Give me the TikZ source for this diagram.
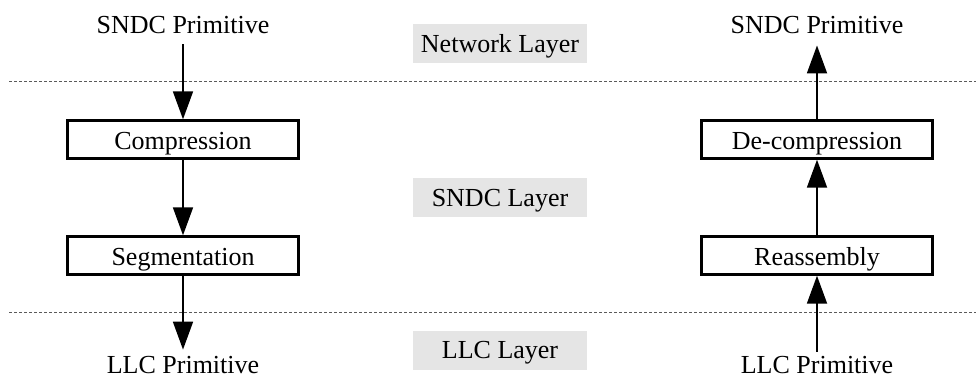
\documentclass[tikz,border=0pt]{standalone}
\usepackage{fontspec}
\setmainfont{Liberation Serif}
\usetikzlibrary{arrows.meta}
\definecolor{layergray}{RGB}{229,229,229}
\definecolor{sepgray}{RGB}{90,90,90}
\tikzset{
  txt/.style={font=\fontsize{26}{30}\selectfont, inner sep=0pt, anchor=base},
  procbox/.style={draw, line width=2.4pt, minimum width=231pt, minimum height=38pt, inner sep=0pt, text height=20pt, text depth=0pt, font=\fontsize{26}{30}\selectfont},
  layerbox/.style={fill=layergray, minimum width=174pt, minimum height=39pt, inner sep=0pt, text height=17pt, text depth=0pt, font=\fontsize{26}{30}\selectfont},
  flow/.style={line width=1.8pt, -{Triangle[length=28pt,width=20pt]}},
  sep/.style={draw=sepgray, line width=1pt, dash pattern=on 3pt off 2pt}
}
\begin{document}
\begin{tikzpicture}[x=1pt,y=-1pt]
\useasboundingbox (0,0) rectangle (977,378);
% separators
\coordinate (s1a) at (9,81.5);
\coordinate (s1b) at (976,81.5);
\coordinate (s2a) at (9,312.5);
\coordinate (s2b) at (976,312.5);
\draw[sep] (s1a) -- (s1b);
\draw[sep] (s2a) -- (s2b);
% layer labels
\node[layerbox] (netL) at (500,43.5) {Network Layer};
\node[layerbox] (sndcLay) at (500,197.5) {SNDC Layer};
\node[layerbox] (llcLay) at (500,350) {LLC Layer};
% left column
\node[txt] (sndcL) at (183,33) {SNDC Primitive};
\node[procbox] (comp) at (183,139.5) {Compression};
\node[procbox] (seg) at (183,255.5) {Segmentation};
\node[txt] (llcL) at (183,373) {LLC Primitive};
\draw[flow, shorten <=11pt] (sndcL.south) -- (comp.north);
\draw[flow] (comp.south) -- (seg.north);
\draw[flow, shorten >=6pt] (seg.south) -- (llcL.north);
% right column
\node[txt] (sndcR) at (817,33) {SNDC Primitive};
\node[procbox] (decomp) at (817,139.5) {De-compression};
\node[procbox] (reas) at (817,255.5) {Reassembly};
\node[txt] (llcR) at (817,373) {LLC Primitive};
\draw[flow, shorten <=4pt] (llcR.north) -- (reas.south);
\draw[flow] (reas.north) -- (decomp.south);
\draw[flow, shorten >=12pt] (decomp.north) -- (sndcR.south);
\end{tikzpicture}
\end{document}
